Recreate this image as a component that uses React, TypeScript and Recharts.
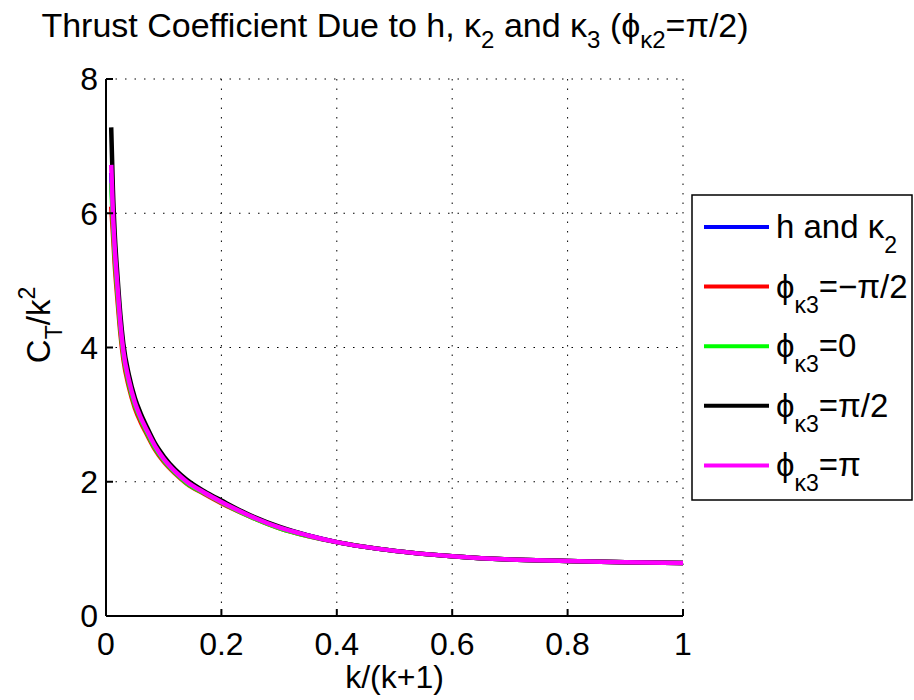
import { CartesianGrid, Label, Line, LineChart, XAxis, YAxis } from 'recharts'

// k/(k+1) sample positions
const xValues = [
  0.009, 0.012, 0.015, 0.02, 0.025, 0.03, 0.04, 0.05, 0.06, 0.07, 0.085, 0.1, 0.12, 0.14, 0.17,
  0.2, 0.25, 0.3, 0.35, 0.4, 0.5, 0.6, 0.7, 0.8, 0.9, 1.0,
]

// C_T/k^2
const hKappa2 = [
  6.6, 5.95, 5.46, 4.87, 4.33, 3.93, 3.49, 3.17, 2.95, 2.77, 2.52, 2.33, 2.15, 2.0, 1.84, 1.7,
  1.49, 1.32, 1.2, 1.1, 0.97, 0.89, 0.84, 0.82, 0.8, 0.79,
]
const phiMinusHalfPi = [
  6.1, 5.7, 5.25, 4.7, 4.2, 3.83, 3.4, 3.1, 2.89, 2.72, 2.48, 2.3, 2.12, 1.97, 1.82, 1.68, 1.48,
  1.31, 1.19, 1.1, 0.97, 0.89, 0.84, 0.82, 0.8, 0.79,
]
const phiZero = [
  6.45, 5.85, 5.38, 4.8, 4.28, 3.9, 3.45, 3.14, 2.93, 2.75, 2.5, 2.32, 2.13, 1.98, 1.83, 1.69,
  1.48, 1.31, 1.19, 1.1, 0.97, 0.89, 0.84, 0.82, 0.8, 0.79,
]
const phiHalfPi = [
  7.28, 6.35, 5.72, 5.05, 4.48, 4.06, 3.58, 3.25, 3.02, 2.83, 2.57, 2.38, 2.18, 2.03, 1.86, 1.72,
  1.5, 1.33, 1.2, 1.1, 0.97, 0.89, 0.84, 0.82, 0.8, 0.79,
]
const phiPi = [
  6.72, 6.0, 5.5, 4.9, 4.35, 3.95, 3.5, 3.18, 2.96, 2.78, 2.53, 2.34, 2.15, 2.0, 1.84, 1.7, 1.49,
  1.32, 1.2, 1.1, 0.97, 0.89, 0.84, 0.82, 0.8, 0.79,
]

const xTicks = [0, 0.2, 0.4, 0.6, 0.8, 1]
const yTicks = [0, 2, 4, 6, 8]

const series = [
  { key: 'hKappa2', color: '#0000ff', values: hKappa2, main: 'h and κ', sub: '2', rest: '' },
  { key: 'phiMinusHalfPi', color: '#ff0000', values: phiMinusHalfPi, main: 'ϕ', sub: 'κ3', rest: '=−π/2' },
  { key: 'phiZero', color: '#00ff00', values: phiZero, main: 'ϕ', sub: 'κ3', rest: '=0' },
  { key: 'phiHalfPi', color: '#000000', values: phiHalfPi, main: 'ϕ', sub: 'κ3', rest: '=π/2' },
  { key: 'phiPi', color: '#ff00ff', values: phiPi, main: 'ϕ', sub: 'κ3', rest: '=π' },
]

const data = xValues.map((x, i) => {
  const row: Record<string, number> = { x }
  series.forEach((s) => {
    row[s.key] = s.values[i]
  })
  return row
})

const FONT = '"Liberation Sans", Arial, Helvetica, sans-serif'

function LegendBox() {
  return (
    <svg
      width={222}
      height={307}
      style={{ position: 'absolute', left: 691, top: 194, fontFamily: FONT }}
    >
      <rect x={1} y={1} width={220} height={305} fill="#fff" stroke="#000" strokeWidth={1.5} />
      {series.map((s, i) => {
        const cy = 33 + i * 59.6
        return (
          <g key={s.key}>
            <line x1={13} x2={78} y1={cy} y2={cy} stroke={s.color} strokeWidth={4} />
            <text x={85} y={cy + 11} fontSize={33} fill="#000">
              {s.main}
              <tspan fontSize={23} dy={15}>
                {s.sub}
              </tspan>
              {s.rest && <tspan dy={-15}>{s.rest}</tspan>}
            </text>
          </g>
        )
      })}
    </svg>
  )
}

function YLabel() {
  const cx = 50
  const cy = 325
  return (
    <text
      x={cx}
      y={cy}
      transform={`rotate(-90, ${cx}, ${cy})`}
      textAnchor="middle"
      fontSize={33}
      fontFamily={FONT}
      fill="#000"
    >
      C
      <tspan fontSize={23} dy={12}>
        T
      </tspan>
      <tspan dy={-12}>/k</tspan>
      <tspan fontSize={23} dy={-15}>
        2
      </tspan>
    </text>
  )
}

export default function App() {
  return (
    <div style={{ position: 'absolute', left: 0, top: 0, width: 914, height: 700, background: '#fff' }}>
      <LineChart
        width={914}
        height={700}
        data={data}
        margin={{ top: 79, right: 231, bottom: 24, left: 46 }}
        style={{ fontFamily: FONT }}
      >
        <CartesianGrid stroke="#000" strokeDasharray="1.5 8" strokeWidth={1} />
        <XAxis
          dataKey="x"
          type="number"
          domain={[0, 1]}
          ticks={xTicks}
          allowDataOverflow
          height={60}
          tickSize={-7}
          tickMargin={23}
          tick={{ fontSize: 32, fill: '#000' }}
          tickFormatter={(v: number) => String(v)}
          stroke="#000"
          strokeWidth={2}
        >
          <Label value="k/(k+1)" position="bottom" offset={-11} fontSize={32} fill="#000" />
        </XAxis>
        <XAxis
          xAxisId="top"
          orientation="top"
          type="number"
          domain={[0, 1]}
          ticks={xTicks}
          height={0}
          tickSize={-7}
          tick={false}
          stroke="#000"
          strokeWidth={2}
        />
        <YAxis
          type="number"
          domain={[0, 8]}
          ticks={yTicks}
          width={60}
          tickSize={-7}
          tickMargin={15}
          tick={{ fontSize: 32, fill: '#000' }}
          stroke="#000"
          strokeWidth={2}
        >
          <Label content={<YLabel />} />
        </YAxis>
        <YAxis
          yAxisId="right"
          orientation="right"
          type="number"
          domain={[0, 8]}
          ticks={yTicks}
          width={0}
          tickSize={-7}
          tick={false}
          stroke="#000"
          strokeWidth={2}
        />
        {series.map((s) => (
          <Line
            key={s.key}
            dataKey={s.key}
            type="monotone"
            stroke={s.color}
            strokeWidth={4.5}
            dot={false}
            isAnimationActive={false}
          />
        ))}
      </LineChart>
      <svg
        width={914}
        height={60}
        style={{ position: 'absolute', left: 0, top: 0, fontFamily: FONT }}
      >
        <text x={395} y={37} textAnchor="middle" fontSize={34} fill="#000">
          Thrust Coefficient Due to h, κ
          <tspan fontSize={24} dy={11}>2</tspan>
          <tspan dy={-11}> and κ</tspan>
          <tspan fontSize={24} dy={11}>3</tspan>
          <tspan dy={-11}> (ϕ</tspan>
          <tspan fontSize={24} dy={11}>κ2</tspan>
          <tspan dy={-11}>=π/2)</tspan>
        </text>
      </svg>
      <LegendBox />
    </div>
  )
}
